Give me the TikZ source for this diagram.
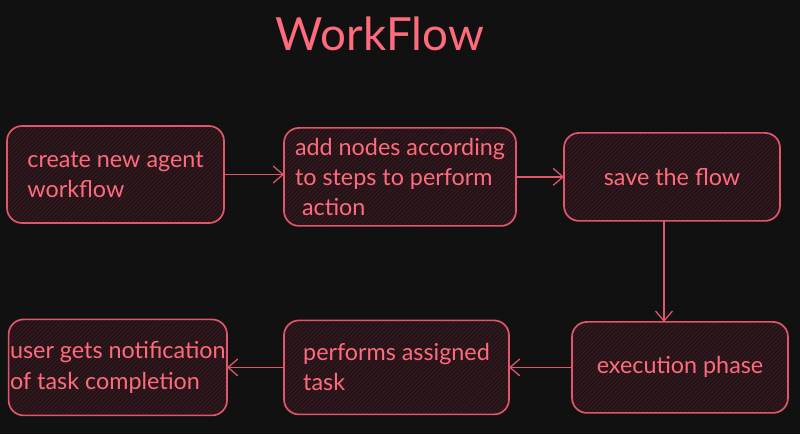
\documentclass[tikz,border=0pt]{standalone}
\usepackage{fontspec}
\setmainfont{Lato}
\usepackage{tikz}
\usetikzlibrary{positioning,arrows.meta,patterns}
\definecolor{c_bg}{HTML}{121112}
\definecolor{c_line}{HTML}{E0566A}
\definecolor{c_text}{HTML}{FF6B7C}
\definecolor{c_fill}{HTML}{231317}
\definecolor{c_hatch}{HTML}{3D1F27}
\tikzset{c-step/.style={rectangle, rounded corners=0.375cm, draw=c_line, line width=1.2pt, preaction={fill=c_fill}, pattern=north east lines, pattern color=c_hatch, text=c_text, font=\fontsize{16.6}{21.4}\selectfont, align=left, inner xsep=1pt, outer sep=0pt},
arrow/.style={line width=0.9pt, draw=c_line, -{Straight Barb[length=7pt, width=12pt]}}}

\begin{document}
\begin{tikzpicture}
\fill [c_bg] (0,0) rectangle (20,-10.85);
\node (title) [text=c_text, font=\fontsize{32.5}{38}\selectfont] at (9.5,-0.85) {WorkFlow};
\node (n1) [c-step, minimum width=5.425cm, minimum height=2.425cm] at (2.8875,-4.3625) {create new agent\\workflow};
\node (n2) [c-step, right=1.5cm of n1, yshift=-0.06cm, minimum width=5.8cm, minimum height=2.45cm] {add nodes according\\to steps to perform\\\hspace{0.3em}action};
\node (n3) [c-step, right=1.2cm of n2, minimum width=5.4cm, minimum height=2.2cm] {save the flow};
\node (n6) [c-step, below=2.525cm of n3, xshift=0.2cm, minimum width=5.4cm, minimum height=2.275cm] {execution phase};
\node (n5) [c-step, left=1.575cm of n6, minimum width=5.625cm, minimum height=2.35cm] {performs assigned\\task};
\node (n4) [c-step, left=1.425cm of n5, minimum width=5.425cm, minimum height=2.4cm] {user gets notification\\of task completion};
\draw [arrow] (n1.east) -- (n1.east -| n2.west);
\draw [arrow] (n2.east) -- (n2.east -| n3.west);
\draw [arrow] ([xshift=-0.2cm]n3.south) -- ([xshift=-0.2cm]n3.south |- n6.north);
\draw [arrow] (n6.west) -- (n6.west -| n5.east);
\draw [arrow] (n5.west) -- (n5.west -| n4.east);
\end{tikzpicture}
\end{document}
